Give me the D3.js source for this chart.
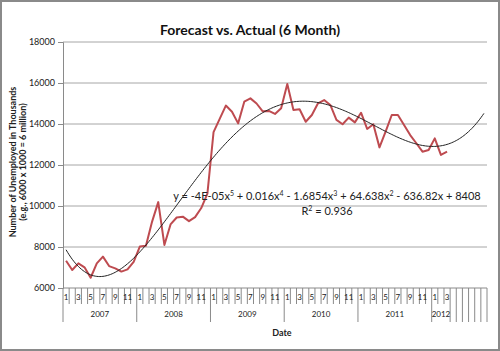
<!DOCTYPE html>
<html lang="en">
<head>
    <meta charset="UTF-8">
    <title>Forecast vs. Actual (6 Month)</title>
    <script src="https://d3js.org/d3.v7.min.js"></script>
    <style>
        body { margin: 0; background: #fff; }
        text { font-family: Lato, "Open Sans", sans-serif; fill: #222; }
        .title { font-size: 14px; font-weight: bold; fill: #111; }
        .tick-label { font-size: 9px; }
        .axis-title { font-size: 9px; font-weight: bold; }
        .eq { font-size: 11px; }
    </style>
</head>
<body>
    <div id="chart"></div>
    <script>
        // data (unemployed, thousands, Jan 2007 - Mar 2012)
        const years = ["2007", "2008", "2009", "2010", "2011", "2012"];
        const monthsPerYear = [12, 12, 12, 12, 12, 3];
        const forecastPeriods = 6;
        const unemployed = [
            7330, 6880, 7200, 7010, 6500, 7200, 7530, 7070, 6960, 6800, 6910, 7280,
            8020, 8060, 9240, 10190, 8100, 9100, 9440, 9480, 9260, 9460, 9900, 10600,
            13600, 14250, 14900, 14600, 14030, 15090, 15250, 15000, 14620, 14640, 14490, 14770,
            15950, 14680, 14720, 14110, 14440, 15010, 15170, 14930, 14200, 13990, 14310, 14080,
            14550, 13760, 13990, 12860, 13630, 14440, 14440, 13950, 13460, 13060, 12650, 12730,
            13300, 12490, 12650
        ];
        const yTicks = [6000, 8000, 10000, 12000, 14000, 16000, 18000];
        const equationParts = [
            ["y = -4E-05x", "5"], [" + 0.016x", "4"], [" - 1.6854x", "3"],
            [" + 64.638x", "2"], [" - 636.82x + 8408", ""]
        ];
        const rSquared = "0.936";

        const W = 500, H = 351;
        const plot = { left: 63, right: 487, top: 42, bottom: 288 };

        // build categories
        const cats = [];
        years.forEach((yr, yi) => {
            for (let m = 1; m <= monthsPerYear[yi]; m++) cats.push({ year: yr, month: m });
        });
        for (let k = 0; k < forecastPeriods; k++) cats.push({ year: null, month: null });

        const svg = d3.select("#chart").append("svg")
            .attr("width", W).attr("height", H);

        svg.append("rect")
            .attr("x", 1).attr("y", 1).attr("width", W - 2).attr("height", H - 2)
            .attr("fill", "#fff").attr("stroke", "#8a8a8a").attr("stroke-width", 2);

        const x = d3.scaleBand()
            .domain(d3.range(cats.length))
            .range([plot.left, plot.right])
            .padding(0);
        const bw = x.bandwidth();
        const cx = i => x(i) + bw / 2;

        const y = d3.scaleLinear()
            .domain([6000, 18000])
            .range([plot.bottom, plot.top]);

        // gridlines
        svg.append("g").selectAll("line")
            .data(yTicks.slice(1))
            .join("line")
            .attr("x1", plot.left).attr("x2", plot.right)
            .attr("y1", d => y(d)).attr("y2", d => y(d))
            .attr("stroke", "#a6a6a6").attr("stroke-width", 1);

        // y axis
        const yAxis = svg.append("g")
            .attr("transform", `translate(${plot.left},0)`)
            .call(d3.axisLeft(y).tickValues(yTicks).tickSize(5).tickFormat(d3.format("d")));
        yAxis.select(".domain").attr("stroke", "#8a8a8a");
        yAxis.selectAll(".tick line").attr("stroke", "#8a8a8a");
        yAxis.selectAll(".tick text").attr("class", "tick-label").attr("x", -8).attr("fill", "#222");

        // x axis: line + category separators
        const xa = svg.append("g");
        xa.append("line")
            .attr("x1", plot.left).attr("x2", plot.right)
            .attr("y1", plot.bottom).attr("y2", plot.bottom)
            .attr("stroke", "#8a8a8a");

        const rowMid = 304, rowEnd = 322;
        const boundaries = d3.range(cats.length + 1).map(i => {
            const prev = cats[i - 1], next = cats[i];
            const full = !prev || !next || prev.year !== next.year || prev.year === null;
            return { xPos: i < cats.length ? x(i) : plot.right, full };
        });
        xa.selectAll(".sep")
            .data(boundaries)
            .join("line")
            .attr("class", "sep")
            .attr("x1", d => d.xPos).attr("x2", d => d.xPos)
            .attr("y1", plot.bottom)
            .attr("y2", d => d.full ? rowEnd : rowMid)
            .attr("stroke", "#8a8a8a");

        xa.selectAll(".mlab")
            .data(cats.map((c, i) => ({ c, i })).filter(d => d.c.month && d.c.month % 2 === 1))
            .join("text")
            .attr("class", "tick-label")
            .attr("x", d => cx(d.i))
            .attr("y", 300)
            .attr("text-anchor", "middle")
            .style("font-size", "8px")
            .text(d => d.c.month);

        xa.selectAll(".ylab")
            .data(years)
            .join("text")
            .attr("class", "tick-label")
            .attr("x", yr => {
                const idx = cats.map((c, i) => c.year === yr ? i : -1).filter(i => i >= 0);
                return (x(idx[0]) + x(idx[idx.length - 1]) + bw) / 2;
            })
            .attr("y", 317)
            .attr("text-anchor", "middle")
            .style("font-size", "8px")
            .text(yr => yr);

        // titles
        svg.append("text")
            .attr("class", "title")
            .attr("x", 250).attr("y", 35)
            .attr("text-anchor", "middle")
            .text("Forecast vs. Actual (6 Month)");

        svg.append("text")
            .attr("class", "axis-title")
            .attr("x", 282).attr("y", 336)
            .attr("text-anchor", "middle")
            .text("Date");

        const yt = svg.append("text")
            .attr("class", "axis-title")
            .attr("transform", "translate(16,162) rotate(-90)")
            .attr("text-anchor", "middle");
        yt.append("tspan").attr("x", 0).attr("y", 0).text("Number of Unemployed in Thousands");
        yt.append("tspan").attr("x", 0).attr("y", 9.5).text("(e.g., 6000 x 1000 = 6 million)");

        // polynomial trendline (order 5), fitted to the actual values, 6 periods forward
        const n = unemployed.length;
        const mid = (n + 1) / 2, half = (n - 1) / 2;
        const deg = 5;
        const A = d3.range(deg + 1).map(() => new Array(deg + 2).fill(0));
        unemployed.forEach((v, i) => {
            const t = (i + 1 - mid) / half;
            const p = d3.range(2 * deg + 1).map(k => Math.pow(t, k));
            for (let r = 0; r <= deg; r++) {
                for (let c = 0; c <= deg; c++) A[r][c] += p[r + c];
                A[r][deg + 1] += v * p[r];
            }
        });
        for (let c = 0; c <= deg; c++) {
            let piv = c;
            for (let r = c + 1; r <= deg; r++) if (Math.abs(A[r][c]) > Math.abs(A[piv][c])) piv = r;
            [A[c], A[piv]] = [A[piv], A[c]];
            for (let r = 0; r <= deg; r++) {
                if (r === c) continue;
                const f = A[r][c] / A[c][c];
                for (let k = c; k <= deg + 1; k++) A[r][k] -= f * A[c][k];
            }
        }
        const coef = A.map((row, r) => row[deg + 1] / row[r]);
        const trend = xv => {
            const t = (xv - mid) / half;
            return coef.reduce((s, a, k) => s + a * Math.pow(t, k), 0);
        };
        const xc = d3.scaleLinear().domain([1, cats.length]).range([cx(0), cx(cats.length - 1)]);
        const trendPts = d3.range(1, cats.length + 0.001, 0.25);

        // actual line
        svg.append("path")
            .datum(unemployed)
            .attr("fill", "none")
            .attr("stroke", "#be4b50")
            .attr("stroke-width", 2)
            .attr("stroke-linejoin", "round")
            .attr("d", d3.line().x((d, i) => cx(i)).y(d => y(d)));

        svg.append("path")
            .datum(trendPts)
            .attr("fill", "none")
            .attr("stroke", "#222")
            .attr("stroke-width", 1)
            .attr("d", d3.line().x(d => xc(d)).y(d => y(trend(d))));

        // equation label
        const eq = svg.append("text")
            .attr("class", "eq")
            .attr("x", 327).attr("y", 200)
            .attr("text-anchor", "middle");
        let raised = false;
        equationParts.forEach(([base, sup]) => {
            eq.append("tspan").attr("dy", raised ? 4 : 0).text(base);
            raised = false;
            if (sup) {
                eq.append("tspan").attr("dy", -4).style("font-size", "7px").text(sup);
                raised = true;
            }
        });

        const r2 = svg.append("text")
            .attr("class", "eq")
            .attr("x", 327).attr("y", 215)
            .attr("text-anchor", "middle");
        r2.append("tspan").text("R");
        r2.append("tspan").attr("dy", -4).style("font-size", "7px").text("2");
        r2.append("tspan").attr("dy", 4).text(" = " + rSquared);
    </script>
</body>
</html>
